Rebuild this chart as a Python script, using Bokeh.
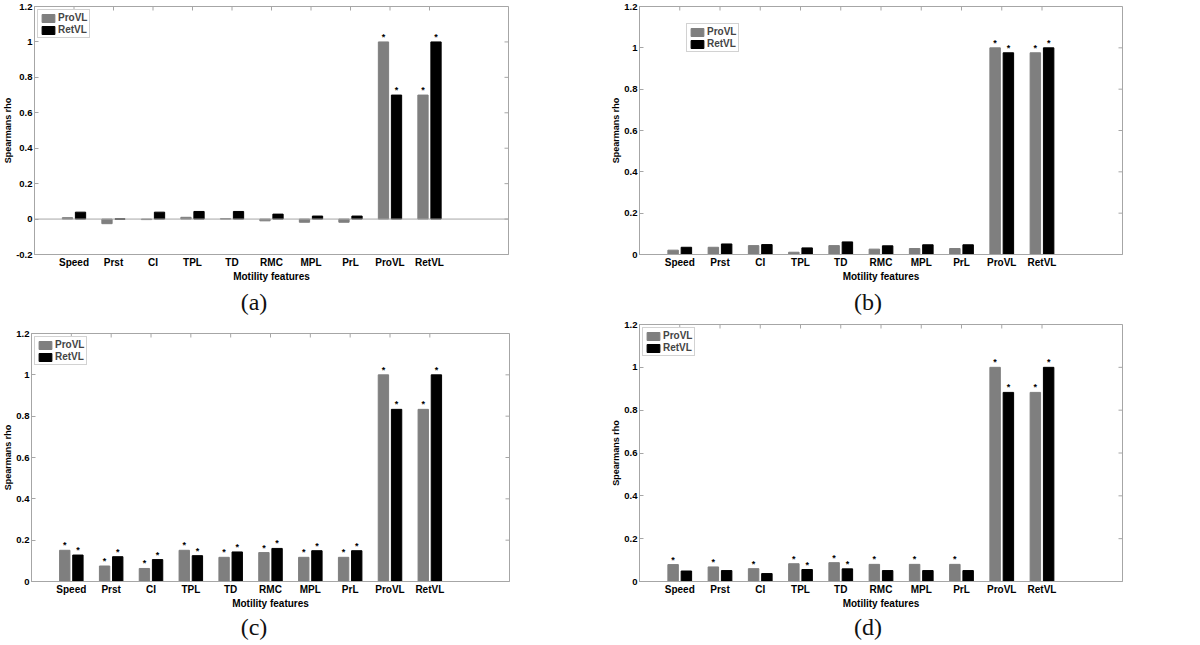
import math
from bokeh.plotting import figure
from bokeh.models import (Range1d, FixedTicker, Legend, LegendItem,
                          Span, ColumnDataSource, Div)
from bokeh.transform import dodge
from bokeh.layouts import row, column
from bokeh.embed import file_html
from bokeh.resources import INLINE

# ---------------- data ----------------
features = ["Speed", "Prst", "CI", "TPL", "TD", "RMC", "MPL", "PrL", "ProVL", "RetVL"]
series = ["ProVL", "RetVL"]

a_pro = [0.008, -0.026, -0.003, 0.010, 0.002, -0.010, -0.018, -0.018, 1.0, 0.70]
a_ret = [0.039, 0.0, 0.039, 0.043, 0.043, 0.028, 0.017, 0.017, 0.70, 1.0]
a_pro_sig = [0, 0, 0, 0, 0, 0, 0, 0, 1, 1]
a_ret_sig = [0, 0, 0, 0, 0, 0, 0, 0, 1, 1]

b_pro = [0.021, 0.035, 0.043, 0.011, 0.043, 0.026, 0.029, 0.029, 1.0, 0.976]
b_ret = [0.035, 0.051, 0.048, 0.032, 0.061, 0.042, 0.047, 0.047, 0.976, 1.0]
b_pro_sig = [0, 0, 0, 0, 0, 0, 0, 0, 1, 1]
b_ret_sig = [0, 0, 0, 0, 0, 0, 0, 0, 1, 1]

c_pro = [0.151, 0.075, 0.063, 0.151, 0.117, 0.140, 0.117, 0.117, 1.0, 0.833]
c_ret = [0.128, 0.120, 0.106, 0.125, 0.143, 0.160, 0.149, 0.149, 0.833, 1.0]
c_pro_sig = [1, 1, 1, 1, 1, 1, 1, 1, 1, 1]
c_ret_sig = [1, 1, 1, 1, 1, 1, 1, 1, 1, 1]

d_pro = [0.079, 0.068, 0.060, 0.083, 0.088, 0.080, 0.080, 0.080, 1.0, 0.883]
d_ret = [0.049, 0.051, 0.037, 0.056, 0.059, 0.051, 0.051, 0.051, 0.883, 1.0]
d_pro_sig = [1, 1, 1, 1, 1, 1, 1, 1, 1, 1]
d_ret_sig = [0, 0, 0, 1, 1, 0, 0, 0, 1, 1]

yticks_a = [-0.2, 0, 0.2, 0.4, 0.6, 0.8, 1, 1.2]
ylabels_a = ["-0.2", "0", "0.2", "0.4", "0.6", "0.8", "1", "1.2"]
yticks_b = [0, 0.2, 0.4, 0.6, 0.8, 1, 1.2]
ylabels_b = ["0", "0.2", "0.4", "0.6", "0.8", "1", "1.2"]

captions = ["(a)", "(b)", "(c)", "(d)"]

# ---------------- styling ----------------
PRO_COLOR = "#7f7f7f"
RET_COLOR = "#000000"
AX_COLOR = "#a6a6a6"
FONT = "Liberation Sans"
BAR_W = 0.26
OFF = 0.165


def make_panel(pro, ret, pro_sig, ret_sig, yticks, ylabels,
               width, height, bl, br, bt, bb, legend_loc, legend_margin):
    n = len(features)
    xs = list(range(1, n + 1))
    x_end = n + 2
    src = ColumnDataSource(dict(x=xs, pro=pro, ret=ret))

    p = figure(width=width, height=height, output_backend="svg", toolbar_location=None,
               x_range=Range1d(0, x_end), y_range=Range1d(yticks[0], yticks[-1]),
               min_border_left=bl, min_border_right=br, min_border_top=bt,
               min_border_bottom=bb)
    p.xgrid.visible = False
    p.ygrid.visible = False
    p.outline_line_color = AX_COLOR
    p.background_fill_color = "white"

    if yticks[0] < 0:
        p.add_layout(Span(location=0, dimension="width", line_color=AX_COLOR, line_width=1))

    r_pro = p.vbar(x=dodge("x", -OFF, range=p.x_range), top="pro", bottom=0, width=BAR_W,
                   source=src, fill_color=PRO_COLOR, line_color=PRO_COLOR)
    r_ret = p.vbar(x=dodge("x", OFF, range=p.x_range), top="ret", bottom=0, width=BAR_W,
                   source=src, fill_color=RET_COLOR, line_color=RET_COLOR)

    # significance markers
    sp = ColumnDataSource(dict(x=[x for x, s in zip(xs, pro_sig) if s],
                               y=[v for v, s in zip(pro, pro_sig) if s]))
    sr = ColumnDataSource(dict(x=[x for x, s in zip(xs, ret_sig) if s],
                               y=[v for v, s in zip(ret, ret_sig) if s]))
    for s, off in ((sp, -OFF), (sr, OFF)):
        p.text(x=dodge("x", off, range=p.x_range), y="y", text={"value": "*"}, source=s,
               text_align="center", text_baseline="middle", y_offset=-5,
               text_font_size="9px", text_font={"value": FONT}, text_font_style="bold",
               text_color="black")

    # mirrored inward ticks on the top and right edges of the box (half clipped by frame)
    p.scatter(x=xs, y=[yticks[-1]] * n, marker="dash", angle=math.pi / 2, size=8,
              line_color=AX_COLOR, line_width=1)
    p.scatter(x=[x_end] * len(yticks), y=yticks, marker="dash", size=8,
              line_color=AX_COLOR, line_width=1)

    # axes
    xa = p.xaxis[0]
    ya = p.yaxis[0]
    xa.ticker = FixedTicker(ticks=xs)
    xa.major_label_overrides = {x: f for x, f in zip(xs, features)}
    xa.axis_label = "Motility features"
    ya.ticker = FixedTicker(ticks=yticks)
    ya.major_label_overrides = {t: l for t, l in zip(yticks, ylabels)}
    ya.axis_label = "Spearmans rho"
    for ax in (xa, ya):
        ax.axis_line_color = AX_COLOR
        ax.major_tick_line_color = AX_COLOR
        ax.minor_tick_line_color = None
        ax.major_tick_in = 4
        ax.major_tick_out = 0
        ax.major_label_text_font = FONT
        ax.major_label_text_font_style = "bold"
        ax.major_label_text_font_size = "10px"
        ax.major_label_text_color = "black"
        ax.axis_label_text_font = FONT
        ax.axis_label_text_font_style = "bold"
        ax.axis_label_text_font_size = "10px"
        ax.axis_label_text_color = "black"
        ax.major_label_standoff = 2
        ax.axis_label_standoff = 0
    xa.major_tick_in = 0
    ya.axis_label_text_font_size = "9px"
    ya.major_label_text_font_size = "9.5px"

    legend = Legend(items=[LegendItem(label=series[0], renderers=[r_pro]),
                           LegendItem(label=series[1], renderers=[r_ret])],
                    location=legend_loc, margin=legend_margin,
                    border_line_color=AX_COLOR, background_fill_alpha=1,
                    label_text_font=FONT, label_text_font_style="bold",
                    label_text_font_size="10px", label_height=10, glyph_height=10,
                    glyph_width=16, label_standoff=2, padding=2, spacing=1)
    p.add_layout(legend)
    return p


def caption_div(text, width, height, line_height):
    return Div(text=text, width=width, height=height, margin=0,
               styles={"text-align": "center", "font-family": "'Liberation Serif', serif",
                       "font-size": "24px", "line-height": f"{line_height}px",
                       "color": "#111111"})


pa = make_panel(a_pro, a_ret, a_pro_sig, a_ret_sig, yticks_a, ylabels_a,
                600, 290, 28, 92, 6, 36, "top_left", 3)
pb = make_panel(b_pro, b_ret, b_pro_sig, b_ret_sig, yticks_b, ylabels_b,
                600, 290, 39, 78, 6, 36, (47, 202), 0)
pc = make_panel(c_pro, c_ret, c_pro_sig, c_ret_sig, yticks_b, ylabels_b,
                600, 296, 26, 91, 13, 35, "top_left", 3)
pd = make_panel(d_pro, d_ret, d_pro_sig, d_ret_sig, yticks_b, ylabels_b,
                600, 296, 39, 78, 4, 35, "top_left", 3)

ca = caption_div(captions[0], 508, 30, 24)
cb = caption_div(captions[1], 536, 30, 24)
cc = caption_div(captions[2], 508, 28, 22)
cd = caption_div(captions[3], 536, 28, 22)

layout = column(row(column(pa, ca), column(pb, cb)),
                row(column(pc, cc), column(pd, cd)))
open("out.html", "w").write(file_html(layout, INLINE))
